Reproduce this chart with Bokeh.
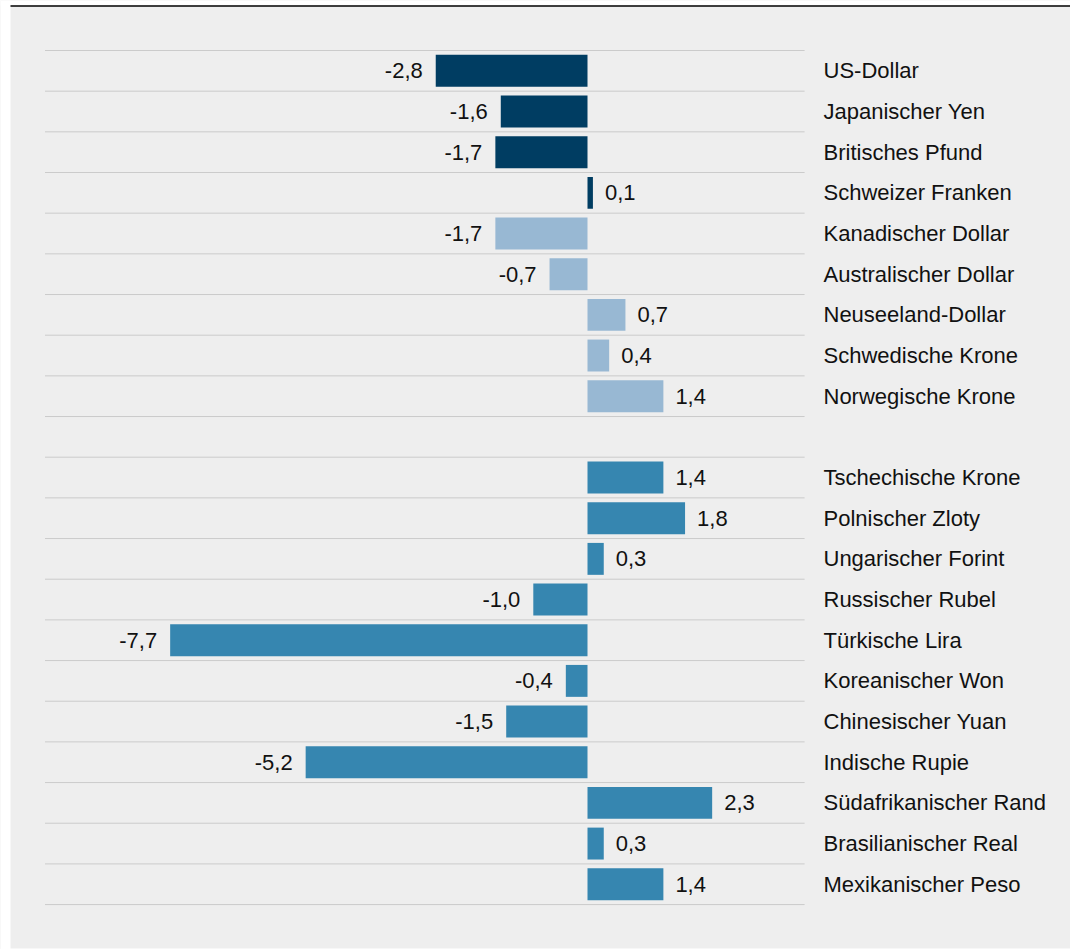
from bokeh.plotting import figure
from bokeh.models import Range1d, ColumnDataSource
from bokeh.core.properties import value
from bokeh.embed import file_html
from bokeh.resources import INLINE

# ---- data ----
group1 = ["US-Dollar", "Japanischer Yen", "Britisches Pfund", "Schweizer Franken",
          "Kanadischer Dollar", "Australischer Dollar", "Neuseeland-Dollar",
          "Schwedische Krone", "Norwegische Krone"]
values1 = [-2.8, -1.6, -1.7, 0.1, -1.7, -0.7, 0.7, 0.4, 1.4]
group2 = ["Tschechische Krone", "Polnischer Zloty", "Ungarischer Forint", "Russischer Rubel",
          "Türkische Lira", "Koreanischer Won", "Chinesischer Yuan", "Indische Rupie",
          "Südafrikanischer Rand", "Brasilianischer Real", "Mexikanischer Peso"]
values2 = [1.4, 1.8, 0.3, -1.0, -7.7, -0.4, -1.5, -5.2, 2.3, 0.3, 1.4]

DARK = "#003d62"
LIGHT = "#98b8d3"
MID = "#3686b0"
colors1 = [DARK] * 4 + [LIGHT] * 5
colors2 = [MID] * 11

# ---- layout of rows (row slot index, one empty slot between groups) ----
names = group1 + group2
vals = values1 + values2
cols = colors1 + colors2
slots = list(range(len(group1))) + [len(group1) + 1 + i for i in range(len(group2))]
ypos = [s + 0.5 for s in slots]
n_slots = len(group1) + 1 + len(group2)

PX_X = 54.2
PX_Y = 40.67
W, H = 1070, 949
ORG = 0  # page pixel of the figure's top-left corner as photographed
x0 = -(587 - ORG) / PX_X
x1 = x0 + W / PX_X
ytop = -(50 - ORG) / PX_Y
ybot = ytop + H / PX_Y

def px_x(px):
    return x0 + (px - ORG) / PX_X

def px_y(py):
    return ytop + (py - ORG) / PX_Y

p = figure(width=W, height=H, output_backend="svg", toolbar_location=None,
           x_range=Range1d(x0, x1), y_range=Range1d(ybot, ytop),
           x_axis_location=None, y_axis_location=None, min_border=0)
p.grid.visible = False
p.outline_line_color = None
p.background_fill_color = "#eeeeee"
p.border_fill_color = "#eeeeee"

# panel edges and top rule
p.quad(left=x0, right=px_x(10), top=ytop, bottom=ybot, fill_color="white", line_color=None)
p.quad(left=x0, right=x1, top=ytop, bottom=px_y(5), fill_color="white", line_color=None)
p.quad(left=x0, right=x1, top=px_y(948), bottom=ybot, fill_color="white", line_color=None)
p.segment(x0=[px_x(10)], x1=[x1], y0=[px_y(5.5)], y1=[px_y(5.5)], line_color="black", line_width=1.5)

# dotted separators
ks = list(range(n_slots + 1))
p.segment(x0=[-10] * len(ks), x1=[4] * len(ks), y0=ks, y1=ks,
          line_color="#a8a8a8", line_width=1, line_dash="1 1")

src = ColumnDataSource(dict(
    y=ypos, left=[min(0, v) for v in vals], right=[max(0, v) for v in vals],
    color=cols, name=names, lx=[(823 - 587) / PX_X] * len(vals),
))
p.hbar(y="y", left="left", right="right", height=0.785, fill_color="color", line_color=None, source=src)

fmt = lambda v: f"{v:.1f}".replace(".", ",")
neg = ColumnDataSource(dict(x=[v for v in vals if v < 0], y=[y for y, v in zip(ypos, vals) if v < 0],
                            t=[fmt(v) for v in vals if v < 0]))
pos = ColumnDataSource(dict(x=[v for v in vals if v >= 0], y=[y for y, v in zip(ypos, vals) if v >= 0],
                            t=[fmt(v) for v in vals if v >= 0]))
common = dict(text_font=value("Liberation Sans"), text_font_size="22px", text_color="#111111",
              text_baseline="middle")
p.text(x="x", y="y", text="t", source=neg, text_align="right", x_offset=-13, **common)
p.text(x="x", y="y", text="t", source=pos, text_align="left", x_offset=12, **common)
p.text(x="lx", y="y", text="name", source=src, text_align="left", **common)

open("out.html", "w").write(file_html(p, INLINE))
